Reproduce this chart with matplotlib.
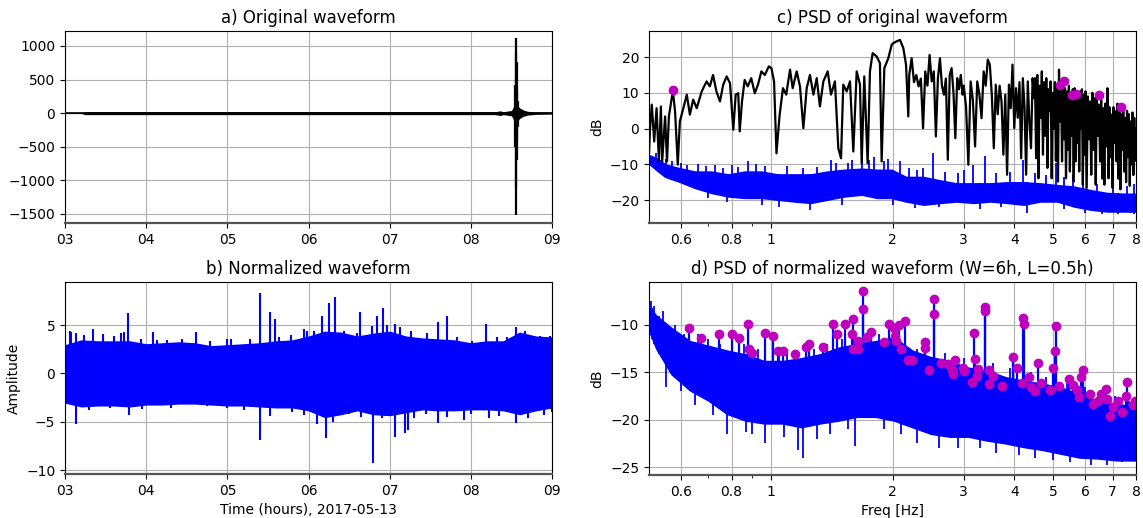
import numpy as np
import matplotlib
matplotlib.use("Agg")
import matplotlib.pyplot as plt
from matplotlib.ticker import FixedLocator, NullFormatter

# ---- a) original waveform (hours after 00:00, counts) ----
raw_t = [3.0, 3.2, 3.25, 4.0, 5.0, 6.0, 7.0, 8.0, 8.3, 8.36, 8.4, 8.5, 8.53, 8.56, 8.6, 8.65, 8.7, 8.8, 9.0]
raw_env = [6, 6, 22, 22, 22, 22, 22, 22, 22, 35, 22, 40, 110, 140, 80, 45, 28, 18, 14]
quake_t = [8.545, 8.552, 8.557, 8.562, 8.568, 8.575]
quake_hi = [420, 900, 1120, 760, 350, 180]
quake_lo = [-500, -1100, -1520, -700, -420, -200]

# ---- b) normalized waveform ----
norm_t = [3.0, 3.2, 3.4, 3.6, 3.8, 4.0, 4.2, 4.4, 4.6, 4.8, 5.0, 5.2, 5.4, 5.6, 5.8, 6.0,
          6.2, 6.4, 6.6, 6.8, 7.0, 7.2, 7.4, 7.6, 7.8, 8.0, 8.2, 8.4, 8.6, 8.8, 9.0]
norm_hi = [2.9, 3.4, 3.3, 3.3, 3.3, 3.0, 3.1, 3.2, 3.1, 2.8, 2.9, 3.0, 3.1, 3.3, 3.4, 3.8,
           4.3, 4.2, 3.8, 4.1, 4.3, 3.8, 3.6, 3.5, 3.4, 3.1, 3.3, 3.3, 4.2, 3.8, 3.7]
norm_lo = [-3.0, -3.4, -3.3, -3.3, -3.4, -3.2, -3.2, -3.1, -3.1, -3.2, -3.3, -3.3, -3.4, -3.5, -3.5, -3.8,
           -4.5, -4.2, -3.8, -4.2, -4.3, -4.0, -3.7, -3.8, -3.8, -3.7, -3.7, -3.8, -4.2, -3.8, -3.5]
spike_up_t = [3.06, 3.35, 3.78, 4.08, 4.61, 5.40, 5.52, 5.59, 6.07, 6.17, 6.25, 6.33, 6.63,
              6.84, 6.92, 7.07, 7.60, 7.71, 8.18, 8.56, 8.97,
              3.07, 3.14, 3.23, 3.47, 3.60, 3.69, 3.73, 3.93, 4.13, 4.26, 4.44, 4.79, 4.99,
              5.04, 5.28, 5.63, 5.78, 5.94, 5.98, 6.44, 6.60, 6.78, 6.97, 7.13, 7.26, 7.46,
              7.83, 8.01, 8.32, 8.45, 8.67, 8.85]
spike_up_v = [4.4, 4.6, 6.2, 4.3, 4.3, 8.3, 6.4, 5.6, 4.4, 5.9, 7.3, 7.9, 6.4,
              5.9, 6.8, 5.1, 5.3, 5.9, 5.1, 4.8, 3.9,
              4.3, 4.2, 4.0, 4.1, 3.9, 4.2, 4.3, 3.6, 3.5, 3.5, 3.6, 3.3, 3.6,
              3.6, 3.6, 3.8, 4.0, 4.6, 4.4, 4.4, 4.2, 4.9, 5.0, 4.8, 4.4, 4.2,
              3.8, 3.4, 3.8, 3.8, 4.4, 3.9]
spike_dn_t = [3.14, 3.79, 5.40, 5.53, 6.21, 6.50, 6.80, 7.07, 7.19, 7.22, 7.60, 7.91, 8.22, 8.56,
              3.30, 3.55, 3.95, 4.30, 4.75, 5.00, 5.20, 5.80, 5.95, 6.10, 6.30, 6.65, 6.90,
              7.30, 7.45, 7.70, 8.00, 8.35, 8.70, 8.90, 9.00]
spike_dn_v = [-5.2, -4.3, -6.9, -4.4, -6.7, -4.2, -9.3, -6.6, -6.2, -5.9, -5.1, -4.8, -4.6, -5.1,
              -3.8, -3.6, -3.7, -3.6, -3.4, -3.6, -3.8, -4.0, -4.3, -5.2, -5.0, -4.5, -4.6,
              -4.6, -4.2, -4.5, -4.2, -4.4, -4.6, -4.3, -4.0]

# ---- c) PSD of original waveform ----
psd_raw_f = [0.500, 0.503, 0.508, 0.515, 0.522, 0.529, 0.535, 0.539, 0.548, 0.554, 0.560, 0.569, 0.573,
             0.580, 0.589, 0.596, 0.608, 0.620, 0.631, 0.643, 0.656, 0.675, 0.694, 0.707, 0.720,
             0.734, 0.749, 0.763, 0.778, 0.793, 0.808, 0.819, 0.831, 0.838, 0.849, 0.862, 0.877,
             0.895, 0.913, 0.930, 0.948, 0.967, 0.989, 1.004, 1.019, 1.033, 1.052, 1.072, 1.092,
             1.116, 1.133, 1.159, 1.181, 1.204, 1.227, 1.250, 1.275, 1.299, 1.323, 1.349, 1.383,
             1.409, 1.441, 1.469, 1.492, 1.511, 1.541, 1.570, 1.600, 1.631, 1.662, 1.678, 1.703,
             1.736, 1.759, 1.786, 1.827, 1.862, 1.880, 1.909, 1.953, 1.990,
             2.009, 2.048, 2.087, 2.127, 2.160, 2.188,
             2.20, 2.23, 2.26, 2.29, 2.32, 2.35, 2.38, 2.41, 2.44, 2.47, 2.50, 2.53, 2.56, 2.59,
             2.62, 2.65, 2.68, 2.71, 2.74, 2.77, 2.80, 2.83, 2.86, 2.89, 2.92, 2.95, 2.98,
             3.00, 3.04, 3.08, 3.12, 3.16, 3.20, 3.24, 3.28, 3.32, 3.36, 3.40, 3.44, 3.48, 3.52,
             3.56, 3.60, 3.64, 3.68, 3.72, 3.76, 3.80, 3.84, 3.88, 3.92, 3.96, 4.00, 4.04, 4.08,
             4.12, 4.16, 4.20, 4.24, 4.28, 4.32, 4.36, 4.40, 4.44, 4.48,
             4.50, 4.53, 4.56, 4.59, 4.62, 4.65, 4.68, 4.71, 4.74, 4.77, 4.80, 4.83, 4.86, 4.89,
             4.92, 4.95, 4.98, 5.01, 5.04, 5.07, 5.10, 5.13, 5.16, 5.19, 5.22, 5.25, 5.28, 5.31,
             5.34, 5.37, 5.40, 5.43, 5.46, 5.49, 5.52, 5.55, 5.58, 5.61, 5.64, 5.67, 5.70, 5.73,
             5.76, 5.79, 5.82, 5.85, 5.88, 5.91, 5.94, 5.97,
             6.00, 6.04, 6.08, 6.12, 6.16, 6.20, 6.24, 6.28, 6.32, 6.36, 6.40, 6.44, 6.48, 6.52,
             6.56, 6.60, 6.64, 6.68, 6.72, 6.76, 6.80, 6.84, 6.88, 6.92, 6.96, 7.00, 7.04, 7.08,
             7.12, 7.16, 7.20, 7.24, 7.28, 7.32, 7.36, 7.40, 7.44, 7.48, 7.52, 7.56, 7.60, 7.64,
             7.68, 7.72, 7.76, 7.80, 7.84, 7.88, 7.92, 7.96, 8.00]
psd_raw_db = [-7.0, 0.0, 6.7, -3.6, 5.7, -9.0, 6.2, -9.2, 3.4, -9.2, 3.4, 8.5, 10.4,
              4.8, -10.1, 2.0, 5.7, 9.5, 3.9, 8.1, 5.7, 10.4, 13.2, 11.8, 15.0,
              10.4, 7.6, 12.3, 14.6, 12.7, -0.3, 9.5, 9.9, -0.8, 7.6, 13.6, 11.8,
              14.1, 9.9, 12.3, 16.0, 15.0, 17.4, 16.9, 13.2, -6.9, 3.9, 11.3, 9.5,
              16.5, 11.3, 16.0, 11.8, 0.1, 11.3, 15.0, 9.5, 14.1, 6.2, 13.2, 16.0,
              9.5, 13.2, -5.5, -8.3, 12.3, 10.4, 13.2, -6.4, 16.0, 12.3, -9.7, 14.6,
              -9.7, 16.0, 21.1, 20.2, 18.3, -9.2, 16.9, 19.7, 23.4,
              23.9, 24.4, 24.8, 22.5, 17.9, 3.4,
              15.0, 19.7, 13.0, 15.0, 11.8, 14.0, 0.1, 16.0, 12.0, 20.6, 13.2, 16.0, -2.2, 14.1,
              19.7, 12.0, 9.5, 14.0, -8.7, 15.0, 16.9, 10.0, -2.7, 14.1, 11.0, 15.0, 9.5,
              12.0, 6.0, -10.1, 13.2, 8.0, -5.0, 13.2, 9.5, 2.9, 16.0, 12.0, 19.3, 17.9, 9.5,
              -5.5, 12.3, 4.0, 12.0, 7.6, -7.3, 9.5, -12.9, 12.3, 5.7, 17.9, 0.1, 11.3, 3.0,
              13.0, -8.3, 14.1, 6.0, -12.9, 13.2, 2.0, -5.5, 14.1, 8.5,
              14.1, -8.3, 15.0, -13.9, 12.0, 3.0, 16.0, -7.3, 13.0, -2.0, 14.1, -11.0, 11.0, 5.0,
              13.2, -13.9, 10.0, 0.0, 13.0, -9.0, 12.3, -14.8, 16.5, 2.0, 13.2, -9.2, 14.0, -3.0,
              11.3, -13.9, 10.4, -6.0, 12.0, -12.0, 9.9, -2.0, 11.0, -14.8, 11.3, -9.2, 10.0, -4.0,
              9.5, -12.0, 10.4, 0.0, 11.0, -15.7, 9.5, -7.3,
              10.4, -16.6, 9.0, -3.0, 7.6, -12.9, 10.0, -6.0, 8.5, -15.7, 9.5, -2.0, 6.7, -9.2,
              8.0, -14.0, 5.7, -15.7, 7.0, -5.0, 11.3, -13.9, 6.0, -8.0, 3.9, -16.6, 6.0, -4.0,
              4.8, -9.2, 7.0, -14.0, 5.0, -17.0, 4.0, -6.0, 6.0, -12.0, 3.0, -15.0, 5.0, -8.0,
              4.0, -16.0, 2.0, -10.0, 4.5, -13.0, 3.0, -9.0, 0.0]
psd_raw_pick_f = [0.572, 5.19, 5.30, 5.56, 5.70, 6.47, 7.34]
psd_raw_pick_db = [10.7, 12.1, 13.4, 9.5, 9.7, 9.5, 5.9]

# blue curve in c: PSD of the normalized trace (band edges + isolated peaks/dips)
psd_n1_f = [0.500, 0.503, 0.527, 0.548, 0.592, 0.649, 0.713, 0.785, 0.862, 0.948, 1.040, 1.143, 1.256,
            1.380, 1.516, 1.678, 1.830, 1.990, 2.160, 2.383, 2.630, 2.881, 3.170, 3.490, 3.840,
            4.220, 4.640, 5.110, 5.620, 6.180, 6.800, 7.480, 8.000]
psd_n1_hi = [-7.5, -7.5, -8.5, -10.0, -11.0, -12.0, -12.0, -12.8, -12.0, -12.0, -12.8, -12.8, -12.8,
             -12.0, -11.5, -11.2, -11.5, -11.5, -13.5, -13.5, -14.5, -15.3, -15.3, -15.3, -15.0,
             -15.0, -15.3, -15.8, -16.2, -17.2, -18.0, -18.2, -18.2]
psd_n1_lo = [-10.1, -10.1, -12.0, -13.5, -14.8, -16.6, -18.0, -19.0, -19.4, -19.4, -19.9, -20.4, -20.8,
             -19.9, -19.0, -18.5, -19.4, -19.4, -20.4, -21.3, -20.8, -20.4, -20.8, -20.4, -20.8,
             -21.3, -20.4, -20.4, -21.8, -22.7, -23.2, -23.2, -23.2]
psd_n1_peak_f = [0.52, 0.88, 1.41, 1.585, 1.68, 2.09, 2.38, 2.52, 3.17, 3.38, 4.20, 5.06,
                 0.55, 0.57, 0.60, 0.62, 0.66, 0.69, 0.73, 0.76, 0.80, 0.83, 0.92, 0.97,
                 1.10, 1.20, 1.30, 1.45, 1.55, 1.75, 1.80, 1.90, 1.95, 2.20, 2.30, 2.70,
                 2.90, 3.00, 3.60, 3.90, 4.50, 4.80, 5.30, 5.60, 5.90, 6.40, 7.00, 7.60, 7.90]
psd_n1_peak_db = [-6.9, -9.2, -8.7, -8.7, -6.2, -9.2, -11.0, -6.9, -10.1, -7.8, -8.7, -9.6,
                  -8.5, -9.0, -9.5, -10.2, -10.0, -10.5, -10.2, -11.0, -10.3, -10.8, -10.0, -10.5,
                  -10.5, -11.0, -10.8, -9.5, -9.5, -8.8, -8.0, -9.0, -8.5, -11.0, -11.5, -12.0,
                  -12.5, -11.5, -12.5, -12.0, -12.5, -13.0, -13.5, -13.0, -14.0, -15.5, -15.5, -16.0, -15.5]
psd_n1_dip_f = [0.778, 1.25, 2.27, 4.29, 7.75, 0.70, 0.95, 1.05, 1.50, 2.00, 2.60, 3.30, 3.70,
                5.30, 6.00, 6.60, 7.20, 7.90]
psd_n1_dip_db = [-20.4, -22.7, -22.2, -23.6, -23.6, -19.5, -21.5, -21.8, -21.5, -21.5, -22.0, -22.5,
                 -22.0, -22.5, -23.5, -24.0, -24.0, -24.0]

# ---- d) PSD of normalized waveform ----
psd_n_f = [0.500, 0.521, 0.568, 0.631, 0.702, 0.780, 0.867, 0.963, 1.071, 1.190, 1.322, 1.470,
           1.633, 1.815, 2.017, 2.240, 2.490, 2.770, 3.080, 3.420, 3.800, 4.230, 4.700, 5.220,
           5.800, 6.450, 7.170, 8.000]
psd_n_hi = [-8.0, -9.0, -10.3, -11.7, -12.2, -12.7, -13.1, -13.8, -13.8, -13.5, -13.1, -12.4,
            -12.0, -11.7, -11.3, -12.7, -13.4, -13.8, -14.5, -14.8, -15.5, -15.9, -16.2, -16.6,
            -17.3, -18.0, -18.3, -18.7]
psd_n_lo = [-10.6, -12.5, -15.2, -16.9, -18.0, -19.4, -20.1, -20.4, -20.4, -20.8, -20.4, -20.1,
            -19.7, -19.7, -20.1, -20.8, -21.5, -21.8, -21.8, -22.2, -22.5, -22.9, -23.2, -23.6,
            -24.0, -24.1, -24.3, -24.3]
psd_n_dip_f = [0.78, 0.868, 0.97, 1.17, 1.20, 1.62, 2.90, 4.10, 7.40,
               0.55, 0.60, 0.65, 0.72, 0.90, 1.08, 1.30, 1.40, 1.55, 1.90, 2.10, 2.30,
               2.60, 3.30, 3.60, 4.50, 5.00, 5.50, 6.20, 6.80]
psd_n_dip_db = [-21.5, -21.3, -22.5, -23.2, -24.0, -22.8, -23.0, -23.7, -24.5,
                -16.5, -17.0, -18.5, -19.5, -21.5, -21.8, -22.0, -21.5, -21.0, -21.0, -21.5, -22.5,
                -23.0, -23.0, -23.5, -24.0, -24.3, -24.5, -24.8, -24.8]
psd_n_top_f = [0.505, 0.51, 0.515, 0.53, 0.54, 0.58, 0.61, 0.66, 0.70, 0.75, 0.86, 0.93,
               1.05, 1.10, 1.28, 1.38, 1.50, 1.70, 1.85, 2.30, 2.70, 3.00, 3.55, 3.90,
               4.40, 4.80, 5.40, 6.00, 6.60, 7.10, 7.70]
psd_n_top_db = [-7.5, -8.2, -8.0, -9.0, -8.5, -10.0, -11.0, -11.0, -11.5, -12.0, -12.0, -12.5,
                -12.8, -12.5, -12.5, -12.0, -11.5, -11.0, -11.0, -12.5, -13.0, -13.5, -14.0, -14.5,
                -15.0, -15.5, -16.0, -16.5, -17.5, -17.5, -18.0]

pick_f = [0.629, 0.673, 0.745, 0.800, 0.834, 0.880, 0.885, 0.901, 0.968, 1.010, 1.045, 1.072,
          1.150, 1.225, 1.240, 1.348, 1.424, 1.460, 1.530, 1.596, 1.590, 1.596, 1.640, 1.640,
          1.690, 1.690, 1.730, 1.770, 1.900, 1.960, 2.020, 2.030, 2.040, 2.070, 2.100, 2.150,
          2.180, 2.230, 2.400, 2.400, 2.460, 2.530, 2.540, 2.640, 2.740, 2.800, 2.850, 2.830,
          2.990, 3.010, 3.140, 3.180, 3.190, 3.240, 3.260, 3.380, 3.380, 3.470, 3.460, 3.550,
          3.720, 3.980, 4.070, 4.170, 4.210, 4.220, 4.340, 4.400, 4.490, 4.570, 4.650, 4.900,
          4.980, 5.030, 5.080, 5.170, 5.450, 5.580, 5.720, 5.780, 5.860, 5.920, 6.140, 6.250,
          6.430, 6.570, 6.740, 6.790, 6.880, 7.020, 7.210, 7.370, 7.560, 7.620, 7.860, 7.940]
pick_db = [-10.3, -11.4, -10.9, -10.9, -11.4, -9.9, -12.5, -13.0, -10.8, -11.2, -12.7, -12.7,
           -13.1, -12.3, -12.0, -12.3, -9.9, -11.0, -9.9, -9.4, -11.0, -12.5, -11.7, -12.5,
           -6.4, -8.3, -11.3, -10.7, -11.8, -9.9, -10.3, -11.2, -11.7, -10.0, -12.5, -9.6,
           -13.7, -13.7, -11.8, -12.4, -14.7, -7.3, -8.8, -14.0, -14.1, -14.7, -13.7, -15.2,
           -14.5, -14.9, -16.0, -10.8, -13.6, -15.4, -14.6, -8.1, -8.5, -14.8, -16.2, -15.4,
           -16.4, -13.4, -14.5, -16.1, -9.3, -9.9, -15.5, -16.6, -17.0, -14.0, -16.1, -16.9,
           -14.5, -12.7, -10.1, -16.4, -15.7, -16.3, -16.9, -17.6, -15.5, -14.7, -17.3, -18.3,
           -18.0, -17.3, -16.8, -17.8, -19.6, -18.7, -18.0, -19.2, -17.5, -16.0, -18.5, -18.0]

hour_ticks = [3, 4, 5, 6, 7, 8, 9]
freq_ticks = [0.6, 0.8, 1, 2, 3, 4, 5, 6, 7, 8]
freq_labels = ["0.6", "0.8", "1", "2", "3", "4", "5", "6", "7", "8"]

plt.rcParams["font.family"] = "DejaVu Sans"
plt.rcParams["font.size"] = 10

fig = plt.figure(figsize=(11.43, 5.18), dpi=100)
ax_a = fig.add_axes([0.0569, 0.5695, 0.4261, 0.3707])
ax_b = fig.add_axes([0.0569, 0.0849, 0.4261, 0.3707])
ax_c = fig.add_axes([0.5678, 0.5695, 0.4261, 0.3707])
ax_d = fig.add_axes([0.5678, 0.0830, 0.4261, 0.3726])


def style(ax):
    ax.grid(True, color="#b0b0b0", lw=0.8)
    ax.set_axisbelow(True)
    for s in ax.spines.values():
        s.set_linewidth(0.8)
    ax.spines["bottom"].set_linewidth(1.6)
    ax.spines["bottom"].set_color("#555555")
    ax.tick_params(labelsize=10)


def time_axis(ax):
    ax.set_xlim(3, 9)
    ax.set_xticks(hour_ticks)
    ax.set_xticklabels(["%02d" % h for h in hour_ticks])


def freq_axis(ax):
    ax.set_xscale("log")
    ax.set_xlim(0.5, 8)
    ax.xaxis.set_major_locator(FixedLocator(freq_ticks))
    ax.set_xticklabels(freq_labels)
    ax.xaxis.set_minor_locator(FixedLocator([0.7, 0.9]))
    ax.xaxis.set_minor_formatter(NullFormatter())


def band(ax, f, lo, hi):
    ax.fill_between(f, lo, hi, color="b", lw=1.0, edgecolor="b")


# a) original waveform
env = np.array(raw_env)
ax_a.fill_between(raw_t, -env, env, color="k", lw=0)
ax_a.plot([3, 9], [0, 0], color="k", lw=1.2)
ax_a.vlines(quake_t, quake_lo, quake_hi, color="k", lw=1.6)
time_axis(ax_a)
ax_a.set_ylim(-1634, 1223)
ax_a.set_yticks([-1500, -1000, -500, 0, 500, 1000])
ax_a.set_title("a) Original waveform", fontsize=12)
style(ax_a)

# b) normalized waveform
band(ax_b, norm_t, norm_lo, norm_hi)
ax_b.vlines(spike_up_t, 0, spike_up_v, color="b", lw=1.5)
ax_b.vlines(spike_dn_t, spike_dn_v, 0, color="b", lw=1.5)
time_axis(ax_b)
ax_b.set_ylim(-10.4, 9.45)
ax_b.set_yticks([-10, -5, 0, 5])
ax_b.set_title("b) Normalized waveform", fontsize=12)
ax_b.set_ylabel("Amplitude")
ax_b.set_xlabel("Time (hours), 2017-05-13")
style(ax_b)

# c) PSD of original waveform
band(ax_c, psd_n1_f, psd_n1_lo, psd_n1_hi)
ax_c.vlines(psd_n1_peak_f, np.interp(psd_n1_peak_f, psd_n1_f, psd_n1_lo), psd_n1_peak_db,
            color="b", lw=1.3)
ax_c.vlines(psd_n1_dip_f, psd_n1_dip_db, np.interp(psd_n1_dip_f, psd_n1_f, psd_n1_hi),
            color="b", lw=1.3)
ax_c.plot(psd_raw_f, psd_raw_db, color="k", lw=1.6)
ax_c.plot(psd_raw_pick_f, psd_raw_pick_db, "o", color="m", ms=6)
freq_axis(ax_c)
ax_c.set_ylim(-26.4, 27.3)
ax_c.set_yticks([-20, -10, 0, 10, 20])
ax_c.set_title("c) PSD of original waveform", fontsize=12)
ax_c.set_ylabel("dB")
style(ax_c)

# d) PSD of normalized waveform with picked peaks
band(ax_d, psd_n_f, psd_n_lo, psd_n_hi)
ax_d.vlines(psd_n_dip_f, psd_n_dip_db, np.interp(psd_n_dip_f, psd_n_f, psd_n_hi), color="b", lw=1.3)
ax_d.vlines(psd_n_top_f, np.interp(psd_n_top_f, psd_n_f, psd_n_lo), psd_n_top_db, color="b", lw=1.3)
ax_d.vlines(pick_f, np.interp(pick_f, psd_n_f, psd_n_lo), pick_db, color="b", lw=1.6)
ax_d.plot(pick_f, pick_db, "o", color="m", ms=6)
freq_axis(ax_d)
ax_d.set_ylim(-25.84, -5.46)
ax_d.set_yticks([-25, -20, -15, -10])
ax_d.set_title("d) PSD of normalized waveform (W=6h, L=0.5h)", fontsize=12)
ax_d.set_ylabel("dB")
ax_d.set_xlabel("Freq [Hz]")
style(ax_d)

fig.savefig("out.png", dpi=100)
